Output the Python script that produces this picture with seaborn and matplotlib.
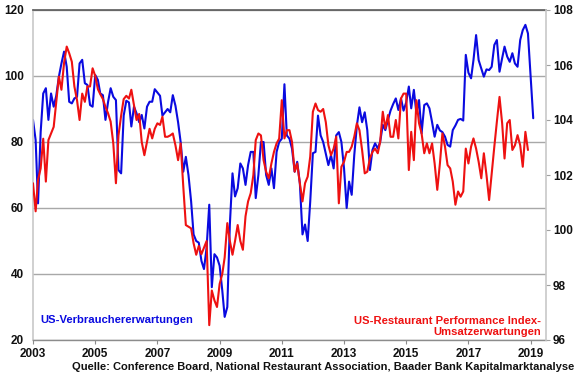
import matplotlib
matplotlib.use("Agg")
import matplotlib.pyplot as plt
import seaborn as sns
import pandas as pd

# US-Verbrauchererwartungen (Conference Board expectations index), monthly from Jan 2003
consumer_expectations = [
    86.7, 80.6, 61.4, 83.0, 94.7, 96.3, 86.7, 94.7, 90.7, 94.0, 99.8, 103.8,
    107.4, 102.8, 92.2, 91.7, 93.2, 93.7, 103.8, 104.9, 97.8, 97.3, 91.2, 90.7,
    100.3, 98.8, 94.7, 94.2, 86.7, 92.2, 96.3, 93.7, 92.7, 71.5, 70.5, 88.0,
    92.5, 92.0, 84.7, 90.7, 88.7, 86.0, 88.2, 84.1, 90.7, 92.2, 92.2, 96.0,
    95.0, 94.0, 88.0, 89.0, 90.0, 89.0, 94.2, 91.0, 86.0, 80.0, 71.0, 75.5,
    70.0, 62.0, 52.0, 50.0, 49.5, 44.0, 41.5, 48.0, 61.0, 36.0, 46.0, 45.0,
    42.5, 35.0, 27.0, 30.0, 55.0, 70.5, 63.5, 66.0, 73.5, 72.0, 67.0, 73.0,
    77.0, 77.0, 63.0, 70.0, 80.0, 80.0, 70.0, 67.0, 72.0, 66.0, 77.0, 80.0,
    81.0, 97.5, 82.0, 81.0, 78.0, 71.0, 74.0, 67.5, 52.0, 55.0, 50.0, 62.0,
    76.6, 77.0, 88.0, 82.0, 80.0, 76.5, 73.0, 76.0, 72.0, 82.0, 83.0, 80.0,
    72.0, 60.0, 68.0, 64.0, 76.0, 85.0, 90.5, 86.0, 89.0, 83.6, 71.5, 77.6,
    79.6, 78.0, 80.0, 85.2, 83.6, 86.7, 89.5, 91.5, 93.2, 89.7, 93.2, 89.5,
    92.0, 96.8, 90.2, 95.8, 88.7, 92.7, 82.6, 91.2, 91.7, 90.2, 86.0, 81.6,
    85.2, 83.5, 83.0, 81.6, 79.1, 78.6, 83.6, 85.0, 86.7, 87.0, 86.5, 106.4,
    101.0, 99.3, 104.8, 112.4, 104.8, 102.3, 99.8, 102.0, 101.8, 102.8, 109.4, 110.9,
    101.3, 105.4, 108.9, 105.9, 104.3, 106.9, 103.8, 102.8, 110.9, 113.9, 115.5, 112.9,
    99.8, 87.2,
]

# US-Restaurant Performance Index - Umsatzerwartungen, monthly from Jan 2003 (right axis)
restaurant_expectations = [
    101.70, 100.68, 101.82, 102.24, 103.32, 101.76, 103.27, 103.51, 103.75, 104.64, 105.58, 105.10,
    106.08, 106.67, 106.43, 106.12, 105.22, 104.72, 104.00, 104.96, 104.66, 105.22, 105.22, 105.88,
    105.60, 105.12, 104.94, 104.76, 104.48, 104.24, 103.94, 103.15, 101.70, 103.44, 104.16, 104.76,
    104.88, 104.78, 105.10, 104.54, 104.00, 104.22, 103.20, 102.72, 103.20, 103.68, 103.33, 103.68,
    103.88, 103.82, 104.12, 103.39, 103.39, 103.44, 103.51, 103.08, 102.54, 103.15, 101.58, 100.18,
    100.12, 100.06, 99.52, 99.10, 99.42, 99.12, 99.36, 99.60, 96.54, 97.80, 97.44, 97.20,
    98.04, 98.40, 99.00, 100.25, 99.60, 99.10, 99.60, 100.18, 99.60, 99.28, 100.50, 101.04,
    101.34, 102.00, 103.27, 103.51, 103.44, 102.54, 102.12, 101.88, 102.42, 102.84, 103.15, 103.32,
    104.72, 103.33, 103.63, 103.63, 103.20, 102.12, 102.42, 101.70, 101.04, 101.70, 101.94, 102.67,
    104.30, 104.60, 104.36, 104.30, 104.40, 103.92, 103.09, 102.72, 102.96, 103.39, 100.97, 102.30,
    102.48, 102.84, 102.84, 103.03, 103.39, 103.88, 103.63, 102.91, 102.06, 102.12, 102.60, 102.84,
    102.96, 102.79, 103.20, 104.30, 103.69, 104.18, 103.39, 103.39, 104.00, 103.33, 104.78, 104.96,
    104.96, 102.18, 103.57, 102.54, 104.72, 103.88, 103.51, 102.79, 103.15, 102.79, 103.15, 102.42,
    101.46, 102.42, 103.51, 103.03, 102.36, 102.24, 101.76, 100.92, 101.40, 101.21, 101.40, 102.96,
    102.42, 103.03, 103.33, 102.96, 102.48, 101.88, 102.79, 102.00, 101.09, 102.06, 103.03, 103.94,
    104.84, 103.88, 102.60, 103.88, 104.00, 102.91, 103.08, 103.45, 103.08, 102.30, 103.57, 102.91,
]

year_labels = ["2003", "2005", "2007", "2009", "2011", "2013", "2015", "2017", "2019"]
left_ticks = [20, 40, 60, 80, 100, 120]
right_ticks = [96, 98, 100, 102, 104, 106, 108]

label_blue = "US-Verbrauchererwartungen"
label_red = "US-Restaurant Performance Index-\nUmsatzerwartungen"
source_text = "Quelle: Conference Board, National Restaurant Association, Baader Bank Kapitalmarktanalyse"

BLUE = "#0a0ae0"
RED = "#ee1111"

sns.set_theme(style="white")
plt.rcParams["font.family"] = ["Liberation Sans", "DejaVu Sans"]

df_blue = pd.DataFrame({
    "date": pd.date_range("2003-01-01", periods=len(consumer_expectations), freq="MS"),
    "value": consumer_expectations,
})
df_red = pd.DataFrame({
    "date": pd.date_range("2003-01-01", periods=len(restaurant_expectations), freq="MS"),
    "value": restaurant_expectations,
})

fig = plt.figure(figsize=(5.8, 3.75), dpi=100)
ax = fig.add_axes([33 / 580, 1 - 340 / 375, 513 / 580, 330 / 375])
ax2 = ax.twinx()

sns.lineplot(data=df_blue, x="date", y="value", ax=ax, color=BLUE, linewidth=1.5)
sns.lineplot(data=df_red, x="date", y="value", ax=ax2, color=RED, linewidth=1.5)

ax.set_xlim(pd.Timestamp("2003-01-01"), pd.Timestamp("2019-07-01"))
ax.set_ylim(20, 120)
ax2.set_ylim(96, 108)

ax.set_yticks(left_ticks)
ax.set_yticklabels([str(t) for t in left_ticks])
ax2.set_yticks(right_ticks)
ax2.set_yticklabels([str(t) for t in right_ticks])
ax.set_xticks([pd.Timestamp(y + "-01-01") for y in year_labels])
ax.set_xticklabels(year_labels)

for a in (ax, ax2):
    a.set_xlabel("")
    a.set_ylabel("")

ax.yaxis.grid(True, color="#a8a8a8", linewidth=1.0)
ax.xaxis.grid(False)
ax.set_axisbelow(True)

ax.spines["top"].set_visible(True)
ax.spines["top"].set_color("#5a5a5a")
ax.spines["top"].set_linewidth(1.2)
ax.spines["bottom"].set_color("#8c8c8c")
ax.spines["bottom"].set_linewidth(1.0)
ax.spines["left"].set_color("#c8c8c8")
ax.spines["left"].set_linewidth(1.2)
ax.spines["right"].set_visible(False)
ax2.spines["right"].set_color("#c8c8c8")
ax2.spines["right"].set_linewidth(1.2)
for s in ("top", "bottom", "left"):
    ax2.spines[s].set_visible(False)

ax.tick_params(axis="y", which="both", left=False, length=0, pad=6.5,
               labelsize=8.5, labelcolor="#111111")
ax.tick_params(axis="x", which="both", bottom=True, length=3, width=0.8, color="#8c8c8c",
               pad=3, labelsize=8.5, labelcolor="#111111")
ax2.tick_params(axis="y", which="both", right=True, length=3, width=0.8, color="#a0a0a0",
                pad=2, labelsize=8.5, labelcolor="#111111")
for lbl in ax.get_xticklabels() + ax.get_yticklabels() + ax2.get_yticklabels():
    lbl.set_fontweight("bold")

ax.text((40 - 33) / 513, (340 - 320) / 330, label_blue, transform=ax.transAxes,
        ha="left", va="center", color=BLUE, fontsize=8.1, fontweight="bold")
ax.text((541 - 33) / 513, (340 - 326.5) / 330, label_red, transform=ax.transAxes,
        ha="right", va="center", multialignment="right", color=RED, fontsize=8.1,
        fontweight="bold", linespacing=1.15)

fig.text(323 / 580, 1 - 366.5 / 375, source_text, ha="center", va="center",
         fontsize=8.0, fontweight="bold", color="#111111")

fig.savefig("out.png", dpi=100)
